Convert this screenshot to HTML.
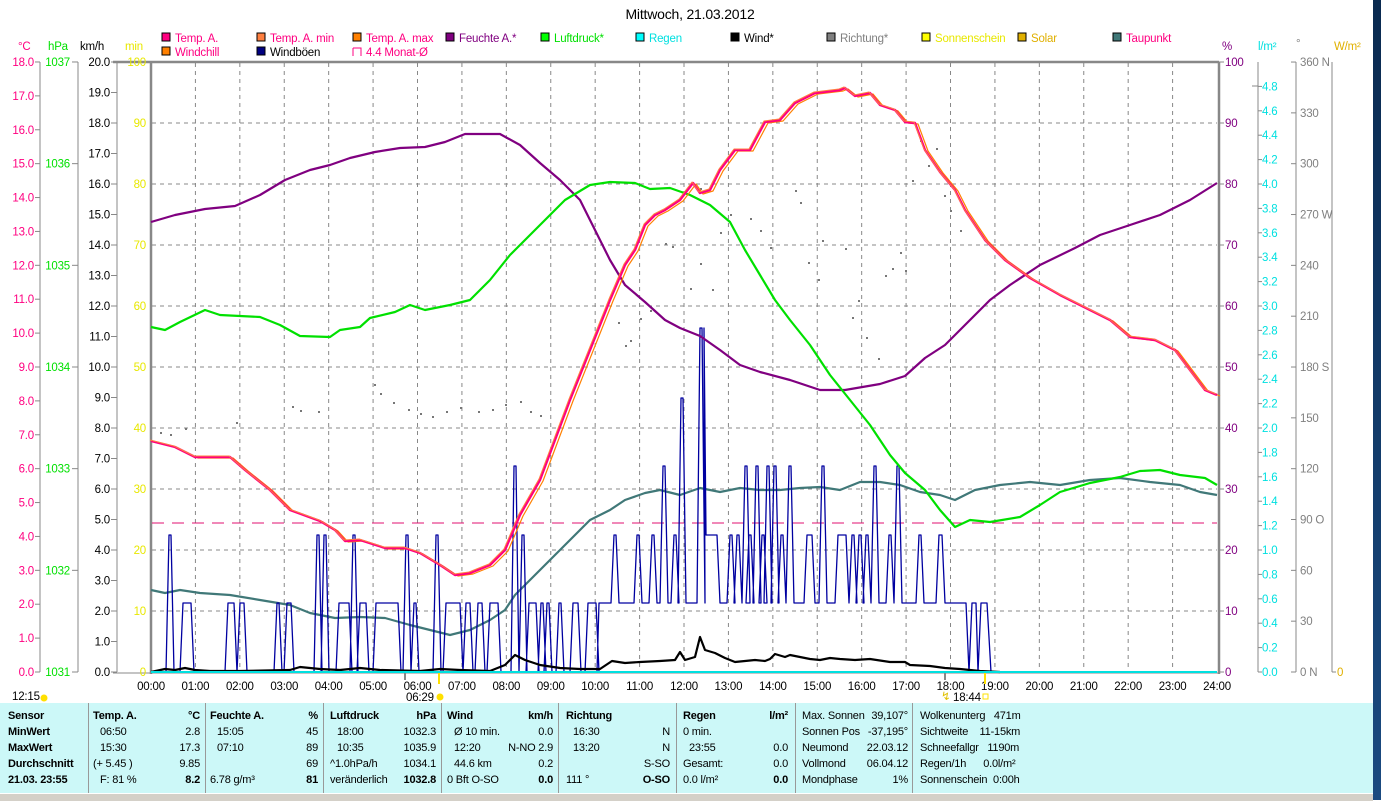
<!DOCTYPE html>
<html><head><meta charset="utf-8">
<style>
html,body{margin:0;padding:0;background:#fff;}
body{width:1381px;height:800px;overflow:hidden;position:relative;font-family:"Liberation Sans",sans-serif;}
svg text{font-family:"Liberation Sans",sans-serif;font-size:11.5px;letter-spacing:-0.2px;}
#tbl{position:absolute;left:0;top:703px;width:1373px;height:90px;background:#ccf8f8;}
#tbl .r{position:absolute;white-space:nowrap;letter-spacing:-0.2px;}
.sep{position:absolute;top:0;width:1px;height:90px;background:#999;}
b{font-weight:bold;}
</style></head><body>
<svg id="s" width="1381" height="800" viewBox="0 0 1381 800" style="position:absolute;left:0;top:0">
</svg>
<div style="position:absolute;left:0;top:793px;width:1373px;height:7px;background:#d4d0c8;border-top:1px solid #fff"></div>
<div style="position:absolute;left:1373px;top:0;width:8px;height:800px;background:linear-gradient(#0a2a50,#1a4a80)"></div>
<div id="tbl"></div>
<script>
const S=document.getElementById('s');
let h='';
const X=t=>151+t*44.417;
function ln(x1,y1,x2,y2,c,w,d){h+=`<line x1="${x1}" y1="${y1}" x2="${x2}" y2="${y2}" stroke="${c}" stroke-width="${w||1}" ${d?`stroke-dasharray="${d}"`:''}/>`;}
function tx(x,y,s,c,a,extra){h+=`<text x="${x}" y="${y}" fill="${c||'#000'}" text-anchor="${a||'start'}" ${extra||''}>${s}</text>`;}
function pl(pts,c,w){h+=`<polyline fill="none" stroke="${c}" stroke-width="${w}" stroke-linejoin="round" points="${pts.map(p=>p.join(',')).join(' ')}"/>`;}
tx(690,19,'Mittwoch, 21.03.2012','#000','middle','style="font-size:14px"');
const leg=[[162,42,'#ff0080','Temp. A.','#ff0080'],[257,42,'#ff8040','Temp. A. min','#ff0080'],[353,42,'#ff8000','Temp. A. max','#ff0080'],[446,42,'#800080','Feuchte A.*','#800080'],[541,42,'#00ff00','Luftdruck*','#00e000'],[636,42,'#00ffff','Regen','#00e0e0'],[731,42,'#000','Wind*','#000'],[827,42,'#808080','Richtung*','#808080'],[922,42,'#ffff00','Sonnenschein','#e8e800'],[1018,42,'#e0b000','Solar','#e0b000'],[1113,42,'#407878','Taupunkt','#ff0080'],[162,56,'#ff8000','Windchill','#ff0080'],[257,56,'#000080','Windböen','#000']];
leg.forEach(l=>{h+=`<rect x="${l[0]}" y="${l[1]-9}" width="8" height="8" fill="${l[2]}" stroke="#000"/>`;tx(l[0]+13,l[1],l[3],l[4]);});
h+=`<path d="M353 48 h8 v8 M353 48 v8" fill="none" stroke="#ff0080"/>`;tx(366,56,'4.4 Monat-Ø','#ff0080');
tx(18,50,'°C','#ff0080');tx(48,50,'hPa','#00e000');tx(80,50,'km/h','#000');tx(125,50,'min','#e8e800');
tx(1222,50,'%','#800080');tx(1258,50,'l/m²','#00e0e0');tx(1296,47,'°','#808080');tx(1334,50,'W/m²','#e0b000');
for(let i=1;i<24;i++)ln(X(i),63,X(i),672,'#888',1,'4,4');
for(let k=1;k<10;k++)ln(152,62+61*k,1217,62+61*k,'#888',1,'4,4');
ln(113,62,1219,62,'#888',2.5);ln(151,62,151,674,'#888',2.5);ln(1219,62,1219,674,'#888',2.5);ln(113,673,1219,673,'#888',1);
ln(40,62,40,672,'#888');ln(78,62,78,672,'#888');ln(117,62,117,672,'#888');
for(let v=0;v<=18;v++){const y=672-v*33.89;tx(34,y+4,v.toFixed(1),'#ff0080','end');ln(35,y,40,y,'#888');}
for(let v=0;v<=6;v++){const y=672-v*101.67;tx(70,y+4,1031+v,'#00e000','end');ln(72,y,78,y,'#888');}
for(let v=0;v<=20;v++){const y=672-v*30.5;tx(110,y+4,v.toFixed(1),'#000','end');ln(111,y,117,y,'#888');}
for(let v=0;v<=10;v++){const y=672-v*61;tx(146,y+4,v*10,'#e8e800','end');}
for(let v=0;v<=10;v++){const y=672-v*61;tx(1225,y+4,v*10,'#800080');ln(1219,y,1224,y,'#888');}
ln(1258,62,1258,672,'#888');
for(let v=0;v<=24;v++){const y=672-v*24.4;tx(1262,y+4,(v*0.2).toFixed(1),'#00e0e0');ln(1258,y,1262,y,'#888');}
ln(1252,86,1258,86,'#888');
ln(1296,62,1296,672,'#888');ln(1332,62,1332,672,'#888');
const dn={0:' N',90:' O',180:' S',270:' W',360:' N'};
for(let v=0;v<=12;v++){const y=672-v*50.83;tx(1300,y+4,(v*30)+(dn[v*30]||''),'#808080');ln(1291,y,1296,y,'#888');}
tx(1337,676,'0','#e0b000');ln(1332,672,1336,672,'#888');
for(let i=0;i<=24;i++)tx(X(i),690,(i<10?'0':'')+i+':00','#000','middle');
tx(12,700,'12:15','#000');h+=`<circle cx="44" cy="698" r="3.5" fill="#ffe000"/>`;
tx(406,701,'06:29','#000');h+=`<circle cx="440" cy="697" r="3.5" fill="#ffe000"/>`;
ln(439,672,439,684,'#ffe000',2);ln(985,672,985,684,'#ffe000',2);
tx(953,701,'18:44','#000');h+=`<rect x="983" y="694" width="5" height="5" fill="none" stroke="#ffe000"/>`;tx(941,700,'↯','#e0c000');
ln(405,672,405,680,'#888',2);ln(945,672,945,680,'#888',2);
ln(152,523,1217,523,'#e01070',1,'12,8');
const dots=[[160,432],[170,434],[185,428],[236,422],[292,406],[300,410],[318,411],[374,384],[380,393],[393,402],[408,409],[420,413],[432,416],[446,411],[460,407],[478,411],[492,409],[505,404],[520,401],[530,411],[540,415],[618,322],[625,345],[630,340],[640,318],[650,310],[665,243],[672,246],[690,288],[700,263],[700,188],[712,289],[720,232],[730,214],[750,218],[760,230],[770,247],[795,190],[800,202],[808,262],[818,279],[822,240],[845,248],[852,317],[858,300],[866,337],[878,358],[885,275],[892,268],[900,252],[905,270],[912,180],[920,140],[928,165],[936,148],[944,195],[950,210],[960,230]];
dots.forEach(d=>h+=`<rect x="${d[0]}" y="${d[1]}" width="2" height="2" fill="#777"/>`);
pl([[151,590],[165,593],[180,590],[200,593],[230,595],[260,600],[290,605],[310,613],[335,618],[360,617],[385,618],[410,625],[430,630],[450,635],[470,630],[490,620],[505,610],[515,595],[530,580],[550,560],[570,540],[590,520],[610,510],[625,500],[645,493],[660,490],[680,495],[700,488],[720,492],[740,488],[760,490],[780,490],[800,488],[820,487],[840,490],[860,482],[880,482],[900,485],[920,492],[940,495],[955,500],[975,490],[1000,485],[1030,482],[1060,485],[1090,480],[1120,478],[1150,482],[1180,485],[1200,492],[1217,495]],'#407878',2.2);
let g=[[151,672]];let base=672;
function pk(x,y,w){w=w||2;g.push([x-4,base],[x-1,y],[x-1+w,y],[x+2+w,base]);}
[[170,535],[184,603,8],[229,603,6],[241,603,4],[278,603],[288,603,4],[318,535],[325,535],[340,603,10],[354,535],[361,603,6],[377,603,22],[407,535],[415,603],[437,535],[447,603,14],[467,603,4],[479,603,4],[491,603,8],[515,466],[523,535],[530,603,7],[542,603],[548,603],[560,603],[574,603,5],[589,603,8]].forEach(p=>pk(p[0],p[1],p[2]));
g.push([597,672],[599,603]);base=603;
[[615,535],[638,535],[653,535],[664,466],[675,535],[682,398],[701,328]].forEach(p=>pk(p[0],p[1],p[2]));
g.push([704,328],[706,535],[717,535],[720,603]);
[[731,535],[738,535],[746,466],[750,535],[757,466],[763,535],[768,466],[775,466],[782,535],[790,466],[808,535,5],[823,466],[839,535,8],[853,535],[860,535],[867,535],[875,466],[890,535],[898,466],[920,535],[940,535,3]].forEach(p=>pk(p[0],p[1],p[2]));
g.push([966,603],[969,672],[972,603],[976,603],[978,672],[981,603],[987,603],[991,672],[1217,672]);
pl(g,'#0000a0',1.3);
pl([[151,672],[165,669],[175,670],[185,668],[195,670],[210,671],[240,671],[290,670],[300,667],[320,669],[340,670],[360,668],[380,670],[420,671],[440,669],[460,670],[490,671],[505,665],[515,655],[525,660],[540,665],[560,668],[580,669],[600,669],[612,661],[625,663],[640,662],[660,661],[675,660],[680,652],[685,660],[695,657],[700,637],[705,650],[715,653],[725,658],[735,662],[745,661],[755,660],[765,661],[770,659],[775,654],[785,657],[790,655],[800,657],[810,659],[820,660],[830,658],[840,659],[855,660],[870,659],[890,662],[905,662],[910,665],[930,666],[945,668],[960,669],[980,671],[1000,672]],'#000',2.2);
pl([[151,222],[175,215],[205,209],[235,206],[260,195],[285,180],[310,170],[330,165],[350,158],[375,152],[400,148],[425,147],[445,142],[465,134],[500,134],[520,145],[540,163],[560,180],[580,200],[595,230],[610,260],[625,285],[645,302],[665,320],[680,328],[700,336],[720,350],[740,365],[760,372],[790,380],[820,390],[845,390],[880,384],[905,376],[925,358],[945,345],[965,325],[990,300],[1010,285],[1040,265],[1075,248],[1100,235],[1130,225],[1160,215],[1190,200],[1217,183]],'#800080',2.2);
pl([[151,327],[165,330],[180,322],[205,310],[220,315],[260,317],[280,325],[300,336],[330,337],[340,330],[360,327],[370,318],[395,312],[410,305],[425,310],[450,305],[470,300],[490,280],[510,255],[530,235],[550,215],[565,200],[590,185],[610,182],[635,183],[650,189],[670,188],[690,195],[710,205],[730,222],[745,250],[760,275],[775,300],[790,320],[810,345],[830,375],[850,400],[870,425],[890,455],[905,473],[925,490],[940,510],[955,527],[970,520],[990,522],[1020,517],[1040,505],[1060,492],[1090,483],[1120,477],[1140,471],[1160,470],[1180,475],[1205,478],[1217,485]],'#00e000',2.2);
const T=[[151,441],[175,447],[195,457],[230,457],[245,470],[270,490],[290,510],[320,521],[335,530],[345,541],[360,540],[385,548],[405,548],[420,553],[440,565],[455,575],[470,573],[490,565],[505,550],[520,515],[540,480],[555,440],[570,400],[590,350],[610,300],[625,265],[635,250],[645,225],[655,215],[665,210],[680,200],[693,183],[700,193],[710,190],[720,170],[735,150],[750,150],[765,122],[780,120],[795,103],[815,93],[840,90],[845,88],[855,96],[870,93],[880,105],[895,110],[905,122],[915,123],[925,150],[940,172],[955,190],[965,210],[985,240],[1005,260],[1030,278],[1060,295],[1090,310],[1110,320],[1130,337],[1155,340],[1175,350],[1190,370],[1205,390],[1217,395]];
pl(T.map(p=>[p[0]+3,p[1]+1]),'#ff8000',1.2);
pl(T,'#ff0080',2.4);
pl(T.map(p=>[p[0]-1,p[1]-1]),'#ff8040',1);
ln(151,672,1217,672,'#00e0e0',2);
S.innerHTML=h;
const tb=document.getElementById('tbl');
let t='';
[88,205,323,441,558,676,795,912].forEach(x=>t+=`<div class="sep" style="left:${x}px"></div>`);
const ys=[7,23,39,55,71];
function R(x,i,s,bold,right){t+=`<div class="r" style="${right?'right:'+(1373-x)+'px':'left:'+x+'px'};top:${ys[i]}px;font-size:11px;${bold?'font-weight:bold':''}">${s}</div>`;}
['Sensor','MinWert','MaxWert','Durchschnitt','21.03. 23:55'].forEach((s,i)=>R(8,i,s,1));
const cols=[[93,200,'Temp. A.','°C',[['06:50','2.8'],['15:30','17.3'],['(+ 5.45 )','9.85'],['F: 81 %','8.2']]],
[210,318,'Feuchte A.','%',[['15:05','45'],['07:10','89'],['','69'],['6.78 g/m³','81']]],
[330,436,'Luftdruck','hPa',[['18:00','1032.3'],['10:35','1035.9'],['^1.0hPa/h','1034.1'],['veränderlich','1032.8']]],
[447,553,'Wind','km/h',[['Ø 10 min.','0.0'],['12:20','N-NO 2.9'],['44.6 km','0.2'],['0 Bft O-SO','0.0']]],
[566,670,'Richtung','',[['16:30','N'],['13:20','N'],['','S-SO'],['111 °','O-SO']]],
[683,788,'Regen','l/m²',[['0 min.',''],['23:55','0.0'],['Gesamt:','0.0'],['0.0 l/m²','0.0']]]];
cols.forEach(c=>{R(c[0],0,c[2],1);R(c[1],0,c[3],1,1);c[4].forEach((r,i)=>{const ind=(i<2||i==3&&c[0]<200)&&c[0]!=683?7:(c[0]==683&&i==1?6:(c[0]==447&&i==2?7:0));R(c[0]+(c[0]==330&&i==2?0:ind),i+1,r[0],0);R(c[1],i+1,r[1],i==3,1);});});
[['Max. Sonnen','39,107°'],['Sonnen Pos','-37,195°'],['Neumond','22.03.12'],['Vollmond','06.04.12'],['Mondphase','1%']].forEach((r,i)=>{R(802,i,r[0]);R(908,i,r[1],0,1);});
['Wolkenunterg&nbsp;&nbsp; 471m','Sichtweite&nbsp;&nbsp;&nbsp; 11-15km','Schneefallgr&nbsp;&nbsp; 1190m','Regen/1h&nbsp;&nbsp;&nbsp;&nbsp;&nbsp; 0.0l/m²','Sonnenschein&nbsp; 0:00h'].forEach((s,i)=>R(920,i,s));
tb.innerHTML=t;
</script>
</body></html>
